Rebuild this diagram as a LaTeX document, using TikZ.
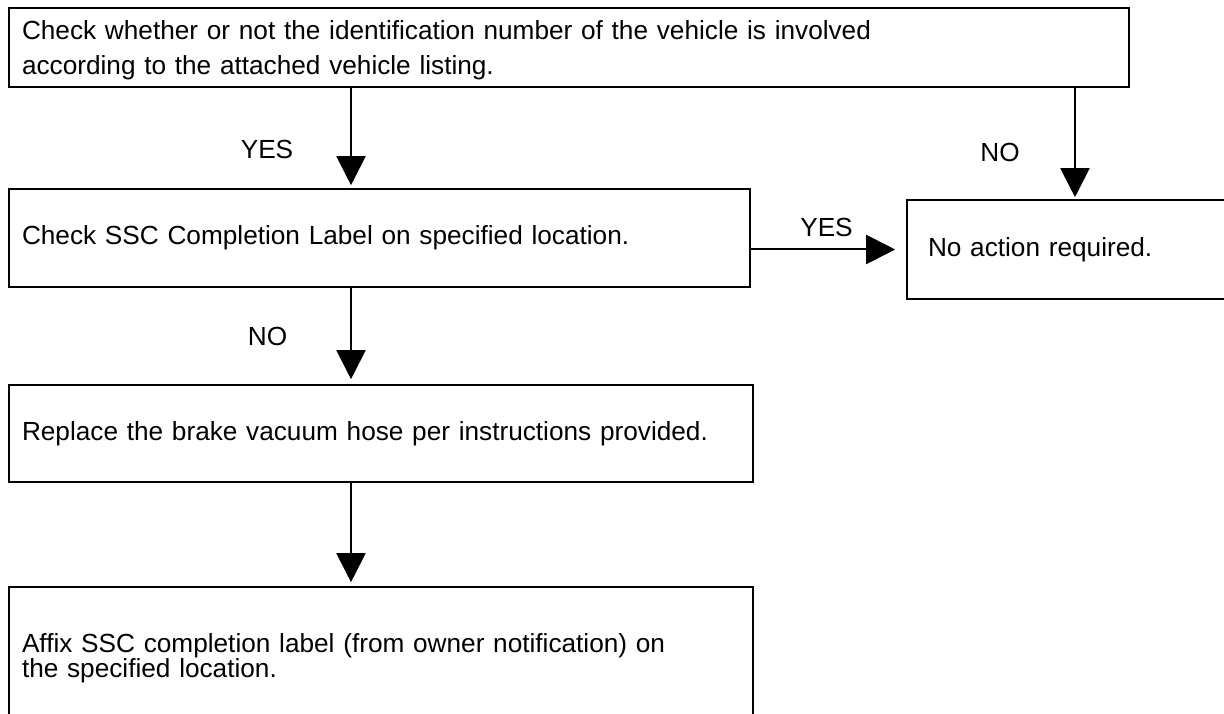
\documentclass[tikz,border=0pt]{standalone}
\usepackage{fontspec}
\setmainfont{Liberation Sans}
\usepackage{tikz}
\usetikzlibrary{arrows.meta,positioning}
\tikzset{
  box/.style={draw=black,line width=1.6pt,rectangle,align=left,inner xsep=13pt,inner ysep=0pt,font=\fontsize{26.2}{35}\selectfont},
  ar/.style={-{Triangle[length=29pt,width=29pt]},line width=2pt,black},
  lbl/.style={font=\fontsize{26.2}{32}\selectfont,inner sep=0pt}
}
\begin{document}
\begin{tikzpicture}[x=1pt,y=1pt]
\useasboundingbox (0,0) rectangle (1224,713);
% boxes
\node[box,text width=1094pt,minimum height=79pt] (chk) at (569,665.5) {\rule{0pt}{25pt}Check whether or not the identification number of the vehicle is involved\\according to the attached vehicle listing.};
\node[box,text width=715pt,minimum height=98pt] (ssc) at (379.5,475) {Check SSC Completion Label on specified location.};
\node[box,text width=291pt,inner xsep=21pt,minimum height=99pt] (noact) at (1073.5,463.5) {No action required.};
\node[box,text width=718pt,minimum height=97pt] (repl) at (381,279.5) {Replace the brake vacuum hose per instructions provided.};
\node[box,text width=718pt,minimum height=135pt,font=\fontsize{26.2}{25}\selectfont] (affix) at (381,58.5) {\rule{0pt}{27pt}Affix SSC completion label (from owner notification) on\\the specified location.};
% arrows
\coordinate (colL) at (351,0);
\coordinate (colR) at (1075,0);
\draw[ar,shorten >=3pt] (chk.south -| colL) -- (ssc.north -| colL);
\draw[ar,shorten >=2pt] (chk.south -| colR) -- (noact.north -| colR);
\draw[ar,shorten >=11pt] (noact.west -| ssc.east) -- (noact.west);
\draw[ar,shorten >=5pt] (ssc.south -| colL) -- (repl.north -| colL);
\draw[ar,shorten >=4pt] (repl.south -| colL) -- (affix.north -| colL);
% labels
\node[lbl] (yesA) at (267,564) {YES};
\node[lbl] (noA) at (1000,560.5) {NO};
\node[lbl] (yesB) at (826.5,485.5) {YES};
\node[lbl] (noB) at (267.5,377) {NO};
\end{tikzpicture}
\end{document}
